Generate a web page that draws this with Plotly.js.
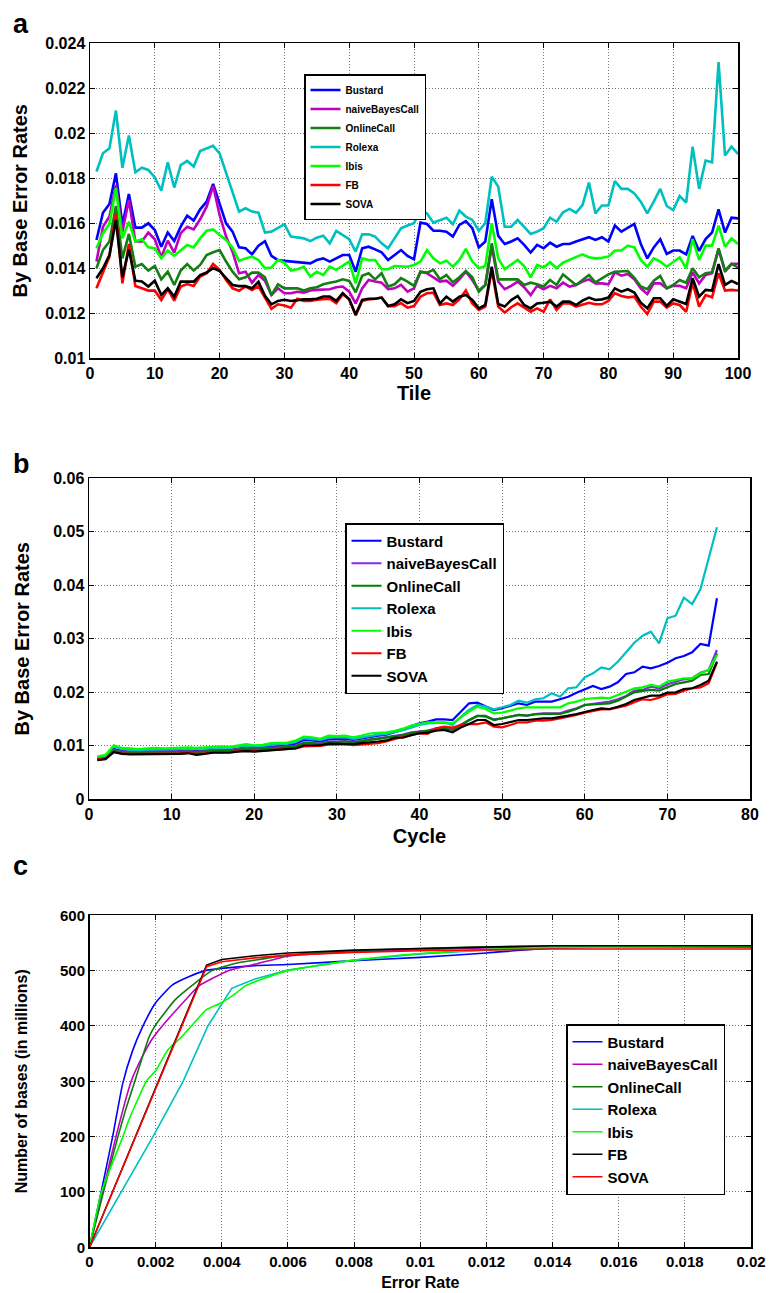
<!DOCTYPE html>
<html>
<head>
<meta charset="utf-8">
<script src="https://cdn.plot.ly/plotly-3.0.1.min.js"></script>
<style>html,body{margin:0;padding:0;background:#fff;}#chart{width:770px;height:1293px;}</style>
</head>
<body>
<div id="chart"></div>
<script>
// ---------- names ----------
const seriesNames = ["Bustard", "naiveBayesCall", "OnlineCall", "Rolexa", "Ibis", "FB", "SOVA"];

// ---------- panel a : by tile ----------
const tiles = [1,2,3,4,5,6,7,8,9,10,11,12,13,14,15,16,17,18,19,20,21,22,23,24,25,26,27,28,29,30,31,32,33,34,35,36,37,38,39,40,41,42,43,44,45,46,47,48,49,50,51,52,53,54,55,56,57,58,59,60,61,62,63,64,65,66,67,68,69,70,71,72,73,74,75,76,77,78,79,80,81,82,83,84,85,86,87,88,89,90,91,92,93,94,95,96,97,98,99,100];

const tileBustard = [0.01526,0.01647,0.01686,0.01822,0.01593,0.01730,0.01581,0.01581,0.01600,0.01570,0.01496,0.01559,0.01521,0.01585,0.01634,0.01612,0.01662,0.01696,0.01775,0.01689,0.01600,0.01563,0.01493,0.01489,0.01462,
 0.01500,0.01520,0.01455,0.01436,0.01433,0.01430,0.01425,0.01422,0.01422,0.01437,0.01444,0.01430,0.01444,0.01459,0.01459,0.01385,0.01489,0.01496,0.01484,0.01471,0.01437,0.01459,0.01481,0.01455,0.01440,
 0.01603,0.01597,0.01567,0.01567,0.01563,0.01541,0.01593,0.01610,0.01578,0.01493,0.01519,0.01707,0.01544,0.01508,0.01519,0.01533,0.01504,0.01470,0.01504,0.01489,0.01514,0.01496,0.01508,0.01508,0.01519,
 0.01529,0.01538,0.01526,0.01538,0.01519,0.01590,0.01563,0.01581,0.01597,0.01508,0.01444,0.01493,0.01529,0.01464,0.01479,0.01479,0.01462,0.01544,0.01477,0.01530,0.01559,0.01662,0.01559,0.01625,0.01622];

const tileNaive = [0.01430,0.01585,0.01630,0.01770,0.01563,0.01704,0.01519,0.01519,0.01559,0.01529,0.01449,0.01523,0.01470,0.01556,0.01585,0.01573,0.01618,0.01674,0.01766,0.01637,0.01541,0.01474,0.01378,0.01385,0.01336,
 0.01370,0.01345,0.01281,0.01311,0.01289,0.01289,0.01296,0.01292,0.01301,0.01304,0.01307,0.01307,0.01316,0.01319,0.01296,0.01244,0.01311,0.01348,0.01341,0.01336,0.01307,0.01311,0.01326,0.01296,0.01311,
 0.01385,0.01378,0.01358,0.01341,0.01345,0.01322,0.01351,0.01385,0.01348,0.01301,0.01326,0.01496,0.01341,0.01307,0.01322,0.01341,0.01316,0.01281,0.01322,0.01307,0.01322,0.01311,0.01336,0.01319,0.01326,
 0.01341,0.01351,0.01333,0.01333,0.01329,0.01382,0.01367,0.01375,0.01351,0.01311,0.01286,0.01333,0.01333,0.01311,0.01322,0.01322,0.01311,0.01382,0.01333,0.01370,0.01378,0.01484,0.01385,0.01420,0.01420];

const tileOnline = [0.01400,0.01481,0.01519,0.01677,0.01444,0.01553,0.01407,0.01419,0.01390,0.01410,0.01351,0.01385,0.01326,0.01390,0.01419,0.01390,0.01415,0.01459,0.01471,0.01481,0.01430,0.01385,0.01351,0.01360,0.01381,
 0.01381,0.01360,0.01281,0.01329,0.01311,0.01311,0.01311,0.01301,0.01311,0.01316,0.01329,0.01336,0.01341,0.01351,0.01344,0.01293,0.01367,0.01378,0.01351,0.01378,0.01319,0.01329,0.01356,0.01341,0.01322,
 0.01385,0.01381,0.01393,0.01351,0.01370,0.01338,0.01360,0.01388,0.01360,0.01296,0.01326,0.01511,0.01351,0.01351,0.01348,0.01351,0.01326,0.01336,0.01329,0.01319,0.01348,0.01326,0.01373,0.01348,0.01326,
 0.01348,0.01370,0.01338,0.01356,0.01373,0.01385,0.01388,0.01388,0.01358,0.01319,0.01307,0.01345,0.01366,0.01311,0.01326,0.01348,0.01336,0.01400,0.01360,0.01378,0.01382,0.01489,0.01390,0.01420,0.01404];

const tileRolexa = [0.01830,0.01911,0.01933,0.02101,0.01847,0.01990,0.01827,0.01847,0.01837,0.01804,0.01745,0.01871,0.01759,0.01859,0.01877,0.01852,0.01921,0.01933,0.01944,0.01911,0.01822,0.01733,0.01652,0.01667,0.01652,
 0.01647,0.01559,0.01563,0.01578,0.01596,0.01541,0.01536,0.01533,0.01521,0.01536,0.01545,0.01511,0.01566,0.01548,0.01529,0.01474,0.01551,0.01551,0.01541,0.01511,0.01489,0.01533,0.01578,0.01590,0.01600,
 0.01659,0.01644,0.01603,0.01615,0.01625,0.01596,0.01656,0.01630,0.01615,0.01567,0.01600,0.01807,0.01763,0.01585,0.01585,0.01615,0.01585,0.01553,0.01563,0.01578,0.01625,0.01607,0.01649,0.01664,0.01647,
 0.01681,0.01781,0.01644,0.01679,0.01679,0.01788,0.01753,0.01753,0.01733,0.01696,0.01644,0.01696,0.01753,0.01677,0.01659,0.01721,0.01692,0.01941,0.01753,0.01879,0.01871,0.02316,0.01901,0.01941,0.01908];

const tileIbis = [0.01489,0.01556,0.01597,0.01756,0.01533,0.01607,0.01519,0.01529,0.01493,0.01489,0.01444,0.01479,0.01456,0.01481,0.01504,0.01493,0.01533,0.01567,0.01573,0.01548,0.01526,0.01491,0.01433,0.01444,0.01452,
 0.01437,0.01400,0.01403,0.01437,0.01425,0.01390,0.01396,0.01407,0.01363,0.01385,0.01370,0.01407,0.01393,0.01410,0.01430,0.01333,0.01444,0.01437,0.01437,0.01396,0.01396,0.01410,0.01407,0.01407,0.01415,
 0.01430,0.01481,0.01444,0.01422,0.01434,0.01407,0.01437,0.01486,0.01430,0.01400,0.01410,0.01600,0.01444,0.01396,0.01415,0.01437,0.01410,0.01360,0.01415,0.01404,0.01427,0.01400,0.01425,0.01437,0.01447,
 0.01462,0.01449,0.01444,0.01447,0.01452,0.01479,0.01479,0.01501,0.01493,0.01437,0.01407,0.01444,0.01430,0.01407,0.01427,0.01449,0.01400,0.01530,0.01437,0.01501,0.01501,0.01590,0.01496,0.01533,0.01508];

const tileFB = [0.01311,0.01378,0.01452,0.01644,0.01333,0.01508,0.01321,0.01311,0.01301,0.01301,0.01259,0.01307,0.01256,0.01319,0.01330,0.01321,0.01363,0.01378,0.01419,0.01393,0.01348,0.01311,0.01300,0.01319,0.01304,
 0.01320,0.01270,0.01220,0.01240,0.01235,0.01225,0.01265,0.01255,0.01255,0.01260,0.01262,0.01265,0.01245,0.01285,0.01262,0.01190,0.01255,0.01262,0.01265,0.01270,0.01232,0.01232,0.01245,0.01225,0.01232,
 0.01274,0.01289,0.01292,0.01237,0.01244,0.01237,0.01262,0.01301,0.01244,0.01215,0.01230,0.01393,0.01230,0.01203,0.01227,0.01244,0.01227,0.01207,0.01222,0.01207,0.01262,0.01215,0.01244,0.01244,0.01230,
 0.01237,0.01247,0.01240,0.01240,0.01255,0.01289,0.01277,0.01271,0.01274,0.01230,0.01197,0.01252,0.01252,0.01225,0.01244,0.01237,0.01207,0.01336,0.01230,0.01281,0.01271,0.01378,0.01301,0.01304,0.01301];

const tileSOVA = [0.01356,0.01400,0.01459,0.01615,0.01360,0.01484,0.01345,0.01341,0.01319,0.01345,0.01281,0.01311,0.01274,0.01341,0.01341,0.01341,0.01370,0.01381,0.01401,0.01388,0.01356,0.01326,0.01321,0.01321,0.01311,
 0.01340,0.01278,0.01240,0.01255,0.01260,0.01255,0.01260,0.01262,0.01262,0.01265,0.01275,0.01275,0.01255,0.01290,0.01262,0.01195,0.01260,0.01265,0.01265,0.01270,0.01232,0.01240,0.01262,0.01245,0.01255,
 0.01296,0.01307,0.01311,0.01244,0.01274,0.01252,0.01274,0.01281,0.01259,0.01222,0.01237,0.01407,0.01241,0.01230,0.01259,0.01277,0.01237,0.01222,0.01244,0.01247,0.01252,0.01230,0.01252,0.01252,0.01237,
 0.01256,0.01270,0.01259,0.01262,0.01270,0.01311,0.01296,0.01307,0.01292,0.01247,0.01222,0.01267,0.01267,0.01233,0.01262,0.01252,0.01241,0.01356,0.01274,0.01304,0.01301,0.01419,0.01326,0.01344,0.01330];

// ---------- panel b : by cycle ----------
const cycles = [1,2,3,4,5,6,7,8,9,10,11,12,13,14,15,16,17,18,19,20,21,22,23,24,25,26,27,28,29,30,31,32,33,34,35,36,37,38,39,40,41,42,43,44,45,46,47,48,49,50,51,52,53,54,55,56,57,58,59,60,61,62,63,64,65,66,67,68,69,70,71,72,73,74,75,76];

const cycBustard = [0.0077,0.0079,0.0094,0.0090,0.0089,0.0089,0.0089,0.0089,0.0089,0.0090,0.0090,0.0091,0.0090,0.0091,0.0092,0.0093,0.0092,0.0095,0.0097,0.0096,0.0097,0.0099,0.0100,0.0101,0.0104,0.0111,0.0110,0.0108,0.0112,0.0112,0.0113,0.0111,0.0114,0.0117,0.0119,0.0121,0.0125,0.0130,0.0137,
 0.01420,0.01451,0.01495,0.01495,0.01482,0.01638,0.01794,0.01806,0.01744,0.01669,0.01701,0.01744,0.01794,0.01763,0.01825,0.01825,0.01825,0.01869,0.01918,0.01993,0.02062,0.02118,0.02062,0.02106,0.02187,0.02342,0.02374,0.02479,0.02448,0.02492,0.02554,0.02636,0.02679,0.02748,0.02903,0.02872,0.03757];

const cycNaive = [0.0077,0.0079,0.0092,0.0089,0.0088,0.0088,0.0088,0.0088,0.0088,0.0089,0.0089,0.0090,0.0089,0.0090,0.0092,0.0092,0.0091,0.0094,0.0095,0.0094,0.0095,0.0096,0.0097,0.0098,0.0100,0.0106,0.0106,0.0104,0.0108,0.0108,0.0109,0.0107,0.0110,0.0112,0.0114,0.0116,0.0119,0.0121,0.0125,
 0.01264,0.01283,0.01327,0.01346,0.01308,0.01389,0.01482,0.01558,0.01544,0.01495,0.01514,0.01544,0.01576,0.01564,0.01595,0.01607,0.01607,0.01607,0.01657,0.01701,0.01763,0.01782,0.01794,0.01825,0.01869,0.01931,0.02031,0.02044,0.02106,0.02075,0.02150,0.02199,0.02243,0.02262,0.02367,0.02417,0.02791];

const cycOnline = [0.0076,0.0078,0.0091,0.0088,0.0087,0.0087,0.0087,0.0087,0.0087,0.0088,0.0088,0.0089,0.0088,0.0089,0.0090,0.0091,0.0090,0.0093,0.0094,0.0093,0.0094,0.0095,0.0096,0.0097,0.0099,0.0105,0.0105,0.0103,0.0107,0.0107,0.0108,0.0106,0.0109,0.0111,0.0113,0.0115,0.0118,0.0120,0.0124,
 0.01264,0.01283,0.01308,0.01327,0.01296,0.01389,0.01482,0.01558,0.01558,0.01482,0.01514,0.01544,0.01576,0.01564,0.01588,0.01595,0.01595,0.01595,0.01638,0.01688,0.01763,0.01776,0.01782,0.01794,0.01843,0.01918,0.02000,0.02025,0.02044,0.02031,0.02093,0.02156,0.02187,0.02218,0.02324,0.02342,0.02729];

const cycRolexa = [0.0079,0.0081,0.0099,0.0094,0.0093,0.0092,0.0093,0.0093,0.0093,0.0094,0.0094,0.0095,0.0094,0.0095,0.0096,0.0097,0.0096,0.0099,0.0100,0.0099,0.0100,0.0102,0.0103,0.0104,0.0107,0.0114,0.0113,0.0111,0.0115,0.0115,0.0116,0.0113,0.0116,0.0119,0.0121,0.0122,0.0125,0.0129,0.0134,
 0.01389,0.01420,0.01432,0.01432,0.01389,0.01544,0.01669,0.01763,0.01731,0.01682,0.01720,0.01763,0.01843,0.01806,0.01869,0.01888,0.01981,0.01918,0.02075,0.02093,0.02280,0.02355,0.02467,0.02430,0.02572,0.02759,0.02927,0.03058,0.03133,0.02916,0.03383,0.03432,0.03768,0.03650,0.03925,0.04505,0.05084];

const cycIbis = [0.0080,0.0083,0.0101,0.0096,0.0095,0.0094,0.0095,0.0096,0.0095,0.0096,0.0096,0.0097,0.0096,0.0097,0.0098,0.0099,0.0098,0.0101,0.0103,0.0101,0.0102,0.0105,0.0105,0.0106,0.0110,0.0117,0.0116,0.0113,0.0119,0.0118,0.0119,0.0116,0.0119,0.0123,0.0124,0.0125,0.0128,0.0132,0.0138,
 0.01407,0.01439,0.01439,0.01439,0.01420,0.01532,0.01638,0.01731,0.01688,0.01607,0.01619,0.01657,0.01701,0.01720,0.01720,0.01720,0.01713,0.01720,0.01794,0.01825,0.01875,0.01888,0.01900,0.01888,0.01950,0.02012,0.02075,0.02093,0.02137,0.02106,0.02199,0.02230,0.02262,0.02262,0.02355,0.02417,0.02698];

const cycFB = [0.0074,0.0076,0.0089,0.0086,0.0085,0.0085,0.0085,0.0085,0.0085,0.0086,0.0086,0.0087,0.0085,0.0086,0.0088,0.0088,0.0088,0.0090,0.0091,0.0090,0.0091,0.0092,0.0093,0.0094,0.0095,0.0099,0.0099,0.0100,0.0102,0.0102,0.0103,0.0101,0.0102,0.0104,0.0105,0.0108,0.0113,0.0117,0.0120,
 0.01234,0.01221,0.01327,0.01358,0.01340,0.01389,0.01407,0.01407,0.01439,0.01358,0.01346,0.01389,0.01439,0.01439,0.01470,0.01470,0.01482,0.01514,0.01544,0.01576,0.01619,0.01657,0.01682,0.01682,0.01720,0.01750,0.01813,0.01869,0.01856,0.01900,0.01963,0.01968,0.02031,0.02075,0.02093,0.02168,0.02554];

const cycSOVA = [0.0073,0.0075,0.0088,0.0085,0.0084,0.0084,0.0084,0.0084,0.0084,0.0085,0.0085,0.0086,0.0083,0.0085,0.0087,0.0087,0.0087,0.0089,0.0090,0.0089,0.0090,0.0091,0.0092,0.0093,0.0095,0.0101,0.0101,0.0101,0.0104,0.0104,0.0104,0.0103,0.0105,0.0106,0.0108,0.0110,0.0115,0.0115,0.0120,
 0.01234,0.01246,0.01283,0.01296,0.01252,0.01340,0.01407,0.01482,0.01482,0.01389,0.01407,0.01439,0.01482,0.01482,0.01502,0.01514,0.01514,0.01533,0.01564,0.01595,0.01638,0.01669,0.01701,0.01688,0.01731,0.01782,0.01856,0.01900,0.01937,0.01937,0.01993,0.02000,0.02062,0.02075,0.02137,0.02218,0.02573];

// ---------- panel c : cumulative bases vs error rate ----------
const errBustard  = [0, 0.0003, 0.0007, 0.001, 0.0013, 0.0016, 0.002, 0.0025, 0.003, 0.0035, 0.004, 0.005, 0.006, 0.008, 0.01, 0.012, 0.014, 0.016, 0.02];
const basesBustard = [0, 85, 200, 295, 355, 398, 442, 474, 489, 500, 504, 509, 511, 518, 524, 532, 541, 543, 543];
const errNaive  = [0, 0.0004, 0.0008, 0.00126, 0.0016, 0.0019, 0.0022, 0.0029, 0.0033, 0.0042, 0.0051, 0.006, 0.008, 0.01, 0.012, 0.014, 0.02];
const basesNaive = [0, 100, 200, 300, 345, 377, 400, 447, 472, 500, 513, 526, 534, 538, 541, 543, 544];
const errOnline  = [0, 0.0004, 0.00086, 0.0011, 0.00137, 0.0018, 0.002, 0.0026, 0.0032, 0.0037, 0.0044, 0.005, 0.006, 0.008, 0.01, 0.012, 0.014, 0.02];
const basesOnline = [0, 95, 200, 250, 300, 380, 402, 448, 478, 500, 513, 519, 528, 536, 540, 543, 544, 545];
const errRolexa  = [0, 0.00096, 0.00192, 0.00283, 0.00358, 0.0043, 0.005, 0.006, 0.008, 0.01, 0.012, 0.014, 0.02];
const basesRolexa = [0, 100, 200, 300, 400, 468, 485, 501, 519, 530, 537, 542, 544];
const errIbis  = [0, 0.00036, 0.00101, 0.00121, 0.00172, 0.00202, 0.00237, 0.00278, 0.00308, 0.00353, 0.00399, 0.0044, 0.0047, 0.0051, 0.006, 0.008, 0.01, 0.012, 0.014, 0.02];
const basesIbis = [0, 100, 200, 233, 300, 321, 357, 380, 400, 429, 442, 458, 472, 482, 500, 519, 531, 538, 542, 544];
const errFB  = [0, 0.00354, 0.004, 0.005, 0.006, 0.008, 0.01, 0.012, 0.014, 0.02];
const basesFB = [0, 510, 520, 527, 532, 537, 540, 543, 545, 545];
const errSOVA  = [0, 0.00354, 0.004, 0.005, 0.006, 0.008, 0.01, 0.012, 0.014, 0.02];
const basesSOVA = [0, 507, 516, 523, 528, 533, 536, 538, 539, 539];

// ---------- tick labels / titles ----------
const panelLabels = ["a", "b", "c"];
const axisTitles = {aX: "Tile", bX: "Cycle", cX: "Error Rate", abY: "By Base Error Rates", cY: "Number of bases (in millions)"};

// ---------- styling ----------
const FONT = "Liberation Sans, Arial, Helvetica, sans-serif";
const colA = {Bustard: "#0000ff", naiveBayesCall: "#bf00bf", OnlineCall: "#137f13", Rolexa: "#00bfbf", Ibis: "#00ff00", FB: "#ff0000", SOVA: "#000000"};
const colB = Object.assign({}, colA, {naiveBayesCall: "#8a2be2", OnlineCall: "#007f00"});
const colC = Object.assign({}, colA, {FB: "#000000", SOVA: "#ff0000", OnlineCall: "#107a10"});

const tileData = [tileBustard, tileNaive, tileOnline, tileRolexa, tileIbis, tileFB, tileSOVA];
const cycData = [cycBustard, cycNaive, cycOnline, cycRolexa, cycIbis, cycFB, cycSOVA];
const errX = [errBustard, errNaive, errOnline, errRolexa, errIbis, errFB, errSOVA];
const basesY = [basesBustard, basesNaive, basesOnline, basesRolexa, basesIbis, basesFB, basesSOVA];

const traces = [];
seriesNames.forEach((n, i) => traces.push({x: tiles, y: tileData[i], name: n, type: "scatter", mode: "lines",
  line: {color: colA[n], width: 2.6}, xaxis: "x", yaxis: "y", legend: "legend"}));
seriesNames.forEach((n, i) => traces.push({x: cycles, y: cycData[i], name: n, type: "scatter", mode: "lines",
  line: {color: colB[n], width: 2.2}, xaxis: "x2", yaxis: "y2", legend: "legend2"}));
seriesNames.forEach((n, i) => traces.push({x: errX[i], y: basesY[i], name: n, type: "scatter", mode: "lines",
  line: {color: colC[n], width: 1.6, shape: "spline", smoothing: 0.5}, xaxis: "x3", yaxis: "y3", legend: "legend3"}));
// Rolexa / FB / SOVA in panel c have a sharp kink: no smoothing
traces[17].line.shape = "linear"; traces[19].line.shape = "linear"; traces[20].line.shape = "linear";

const W = 770, H = 1293;
function px2x(p) { return p / W; }
function px2y(p) { return 1 - p / H; }

function axisBase(extra) {
  return Object.assign({
    showline: true, linecolor: "#000", linewidth: 1.5, mirror: "ticks",
    ticks: "inside", ticklen: 5, tickwidth: 1, tickcolor: "#000",
    showgrid: true, gridcolor: "#7a7a7a", gridwidth: 1, griddash: "1px,2px",
    zeroline: false, autorange: false, fixedrange: true,
    tickfont: {family: FONT, size: 16, color: "#000", weight: "bold"}
  }, extra);
}
function titleFont(sz) { return {family: FONT, size: sz, color: "#000", weight: "bold"}; }
function legendBase(x, y, sz) {
  return {x: x, y: y, xanchor: "left", yanchor: "top", bgcolor: "#fff", bordercolor: "#000", borderwidth: 1.5,
    font: {family: FONT, size: sz, color: "#000", weight: "bold"}, tracegroupgap: 0, itemwidth: 30, traceorder: "normal"};
}

const layout = {
  width: W, height: H, margin: {l: 0, r: 0, t: 0, b: 0},
  paper_bgcolor: "#fff", plot_bgcolor: "#fff", showlegend: true, hovermode: false,
  xaxis: axisBase({domain: [px2x(90), px2x(738)], range: [0, 100], dtick: 10, tick0: 0, anchor: "y",
    title: {text: axisTitles.aX, font: titleFont(20), standoff: 5}}),
  yaxis: axisBase({domain: [px2y(358.3), px2y(43.3)], range: [0.01, 0.024], dtick: 0.002, tick0: 0.01, anchor: "x",
    title: {text: axisTitles.abY, font: titleFont(20), standoff: 12}}),
  xaxis2: axisBase({domain: [px2x(89), px2x(750)], range: [0, 80], dtick: 10, tick0: 0, anchor: "y2",
    title: {text: axisTitles.bX, font: titleFont(20), standoff: 7}}),
  yaxis2: axisBase({domain: [px2y(799.3), px2y(478.3)], range: [0, 0.06], dtick: 0.01, tick0: 0, anchor: "x2",
    title: {text: axisTitles.abY, font: titleFont(20), standoff: 18}}),
  xaxis3: axisBase({domain: [px2x(89.5), px2x(751)], range: [0, 0.02], dtick: 0.002, tick0: 0, anchor: "y3",
    tickfont: {family: FONT, size: 15, color: "#000", weight: "bold"},
    title: {text: axisTitles.cX, font: titleFont(16), standoff: 8}}),
  yaxis3: axisBase({domain: [px2y(1247.3), px2y(915.3)], range: [0, 600], dtick: 100, tick0: 0, anchor: "x3",
    tickfont: {family: FONT, size: 15, color: "#000", weight: "bold"},
    title: {text: axisTitles.cY, font: titleFont(16), standoff: 28}}),
  legend: legendBase(px2x(304), px2y(74), 10),
  legend2: legendBase(px2x(345), px2y(523), 15),
  legend3: legendBase(px2x(566), px2y(1024), 15),
  annotations: [
    {text: panelLabels[0], x: px2x(11), y: px2y(7), xref: "paper", yref: "paper", xanchor: "left", yanchor: "top", showarrow: false, font: titleFont(27)},
    {text: panelLabels[1], x: px2x(11), y: px2y(447), xref: "paper", yref: "paper", xanchor: "left", yanchor: "top", showarrow: false, font: titleFont(27)},
    {text: panelLabels[2], x: px2x(11), y: px2y(849), xref: "paper", yref: "paper", xanchor: "left", yanchor: "top", showarrow: false, font: titleFont(27)}
  ]
};

Plotly.newPlot("chart", traces, layout, {staticPlot: true, displayModeBar: false});
</script>
</body>
</html>
